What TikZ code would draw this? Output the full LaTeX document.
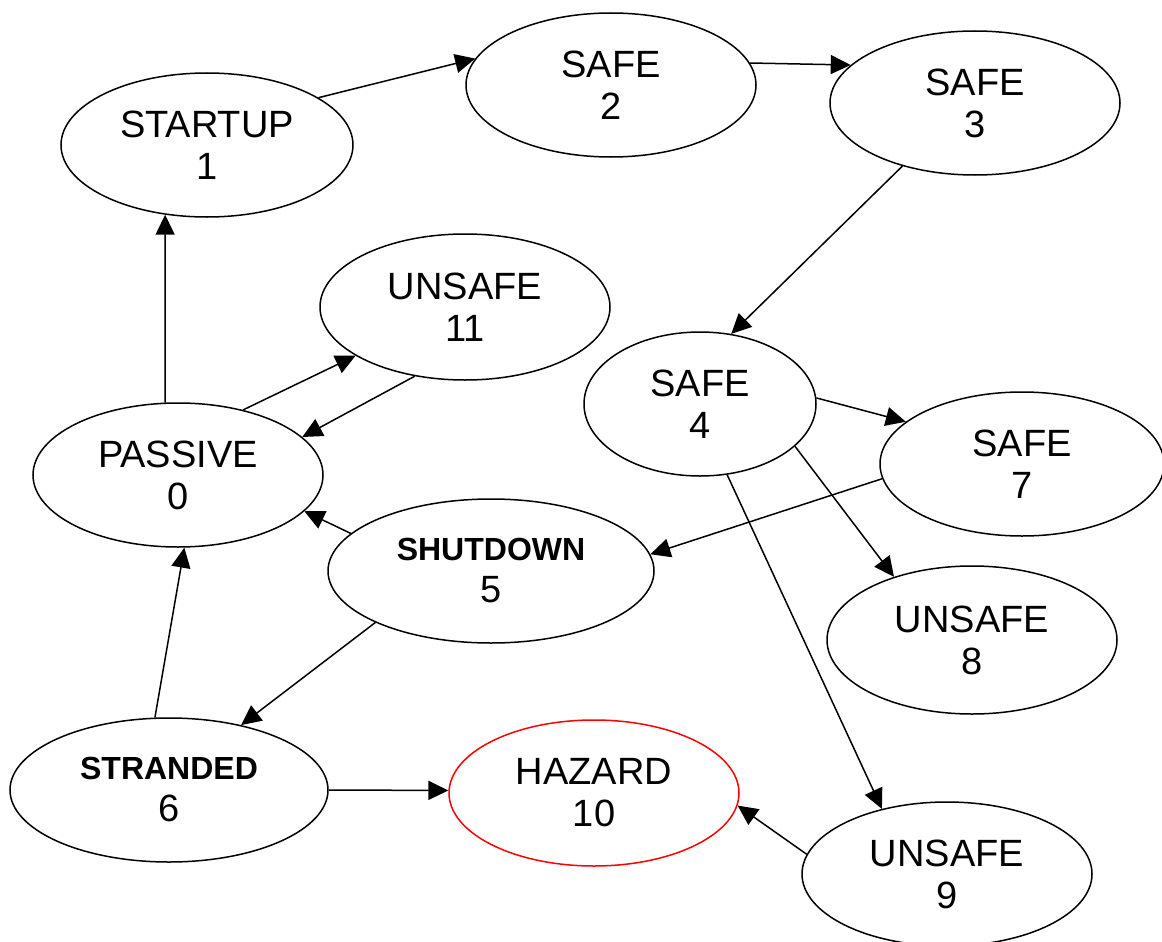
\documentclass[tikz,border=0pt]{standalone}
\usepackage{fontspec}
\setmainfont{Liberation Sans}
\usetikzlibrary{shapes.geometric,arrows.meta}
\tikzset{
  st/.style={ellipse, draw, line width=1.5pt, inner sep=0pt, align=center,
    font=\fontsize{38}{42}\selectfont, minimum width=290pt, minimum height=144pt},
  hz/.style={st, draw=red},
  ar/.style={line width=1.5pt, -{Triangle[length=20pt,width=19pt]}},
}
\newcommand{\boldlbl}[1]{{\fontsize{32}{42}\selectfont\bfseries #1}}
\begin{document}
\begin{tikzpicture}[x=1pt,y=-1pt]
\useasboundingbox (0,0) rectangle (1162,942);
\node[st, minimum width=292pt] (n1) at (207,145) {STARTUP\\1};
\node[st] (n2) at (611,85) {SAFE\\2};
\node[st] (n3) at (975,103) {SAFE\\3};
\node[st, minimum height=146pt] (n11) at (465,307) {UNSAFE\\11};
\node[st] (n0) at (178,475) {PASSIVE\\0};
\node[st, minimum width=232pt] (n4) at (700,404) {SAFE\\4};
\node[st, minimum width=284pt] (n7) at (1022,464) {SAFE\\7};
\node[st, minimum width=326pt] (n5) at (491,571) {\boldlbl{SHUTDOWN}\\5};
\node[st, minimum height=148pt] (n8) at (972,640) {UNSAFE\\8};
\node[st, minimum width=318pt] (n6) at (169,790) {\boldlbl{STRANDED}\\6};
\node[hz, minimum height=146pt] (n10) at (594,793) {HAZARD\\10};
\node[st] (n9) at (947,874) {UNSAFE\\9};

\draw[ar] (n1.23) -- (n2.169);
\draw[ar] (n2.9) -- (n3.163);
\draw[ar] (n3.221) -- (n4.66);
\draw[ar] (n0.100) -- (n1.239);
\draw[ar] (n0.45) -- (n11.204);
\draw[ar] (n11.234) -- (n0.17);
\draw[ar] (n5.165) -- (n0.344);
\draw[ar] (n6.101) -- (n0.275);
\draw[ar] (n5.204) -- (n6.42);
\draw[ar] (n6.0) -- (n10.179);
\draw[ar] (n4.3) -- (n7.160);
\draw[ar] (n4.336) -- (n8.141);
\draw[ar] (n4.291) -- (n9.135);
\draw[ar] (n7.186) -- (n5.6);
\draw[ar] (n9.172) -- (n10.355);
\end{tikzpicture}
\end{document}
